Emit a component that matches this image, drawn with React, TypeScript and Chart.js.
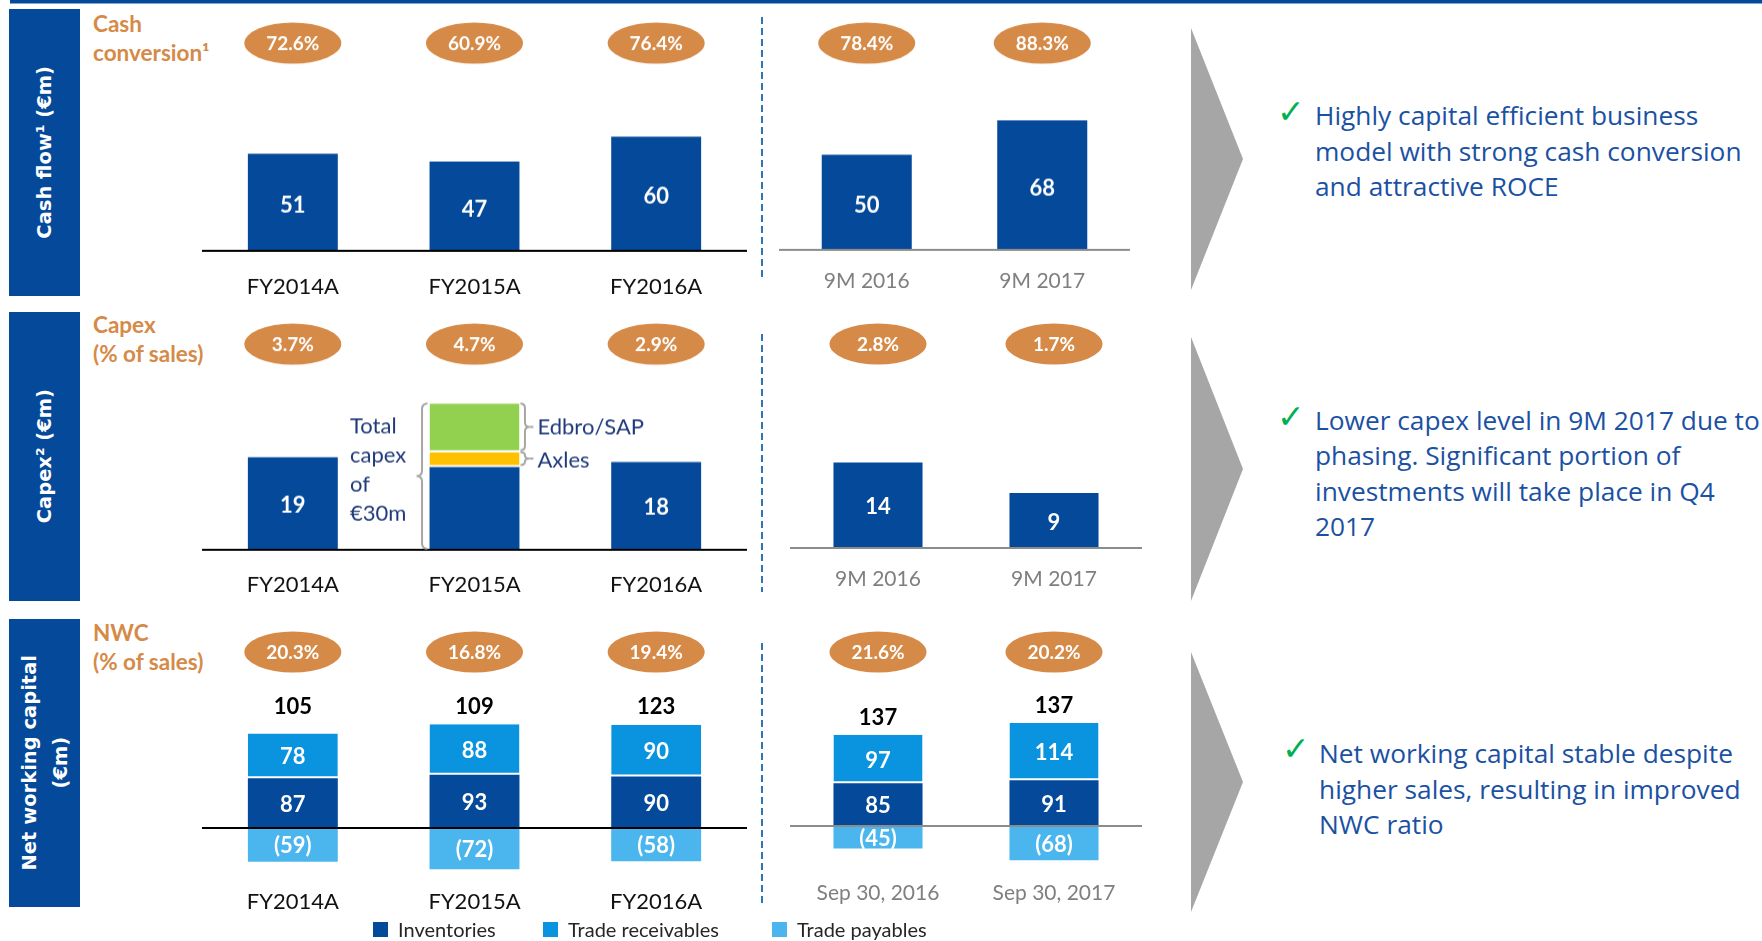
import React, { useEffect, useRef } from "react";
import { Chart, registerables } from "chart.js";
Chart.register(...registerables);

// ---------------- DATA ----------------
const fyCategories = ["FY2014A", "FY2015A", "FY2016A"];
const nineMonthCategories = ["9M 2016", "9M 2017"];
const sepCategories = ["Sep 30, 2016", "Sep 30, 2017"];

const cashFlowFY = [51, 47, 60];
const cashFlow9M = [50, 68];
const cashConversionFY = ["72.6%", "60.9%", "76.4%"];
const cashConversion9M = ["78.4%", "88.3%"];

const capexBaseFY = [19, 17, 18];
const capexAxlesFY = [null, 3, null];
const capexEdbroFY = [null, 10, null];
const capexLabelShownFY = [true, false, true];
const capex9M = [14, 9];
const capexPctFY = ["3.7%", "4.7%", "2.9%"];
const capexPct9M = ["2.8%", "1.7%"];
const capexAnnotationLines = ["Total", "capex", "of", "€30m"];
const capexSegmentNames = ["Axles", "Edbro/SAP"];

const inventoriesFY = [87, 93, 90];
const receivablesFY = [78, 88, 90];
const payablesFY = [-59, -72, -58];
const nwcTotalFY = [105, 109, 123];
const nwcPctFY = ["20.3%", "16.8%", "19.4%"];
const inventoriesSep = [85, 91];
const receivablesSep = [97, 114];
const payablesSep = [-45, -68];
const nwcTotalSep = [137, 137];
const nwcPctSep = ["21.6%", "20.2%"];

const legendLabels = ["Inventories", "Trade receivables", "Trade payables"];

const rowTitles = ["Cash flow¹ (€m)", "Capex² (€m)", "Net working capital\n(€m)"];
const rowMetricLabels = [["Cash", "conversion¹"], ["Capex", "(% of sales)"], ["NWC", "(% of sales)"]];
const commentary = [
  ["Highly capital efficient business", "model with strong cash conversion", "and attractive ROCE"],
  ["Lower capex level in 9M 2017 due to", "phasing. Significant portion of", "investments will take place in Q4", "2017"],
  ["Net working capital stable despite", "higher sales, resulting in improved", "NWC ratio"],
];

// ---------------- STYLE ----------------
const DARK = "#05499A";
const MID = "#0A93DF";
const PALE = "#4BB6EE";
const GREEN = "#92D050";
const YELLOW = "#FFC000";
const ORANGE = "#D68A47";
const NAVY = "#1F3A7A";
const TEXTBLUE = "#1B51A3";
const FONT = "Lato, 'Open Sans', sans-serif";

function drawBrace(ctx: any, x: number, y1: number, y2: number, dir: number, w: number) {
  const r = Math.min(w / 2, (y2 - y1) / 4);
  const mid = (y1 + y2) / 2;
  const xm = x + (dir * w) / 2;
  const xt = x + dir * w;
  ctx.beginPath();
  ctx.moveTo(x, y1);
  ctx.quadraticCurveTo(xm, y1, xm, y1 + r);
  ctx.lineTo(xm, mid - r);
  ctx.quadraticCurveTo(xm, mid, xt, mid);
  ctx.quadraticCurveTo(xm, mid, xm, mid + r);
  ctx.lineTo(xm, y2 - r);
  ctx.quadraticCurveTo(xm, y2, x, y2);
  ctx.stroke();
  return xt;
}

function fmt(v: number) {
  return v < 0 ? `(${Math.abs(v)})` : String(v);
}

function panelPlugin(spec: any) {
  return {
    id: "panel",
    afterDatasetsDraw(chart: any) {
      const ctx = chart.ctx;
      const xs = chart.scales.x;
      const ys = chart.scales.y;
      const area = chart.chartArea;
      const zero = ys.getPixelForValue(0);
      ctx.save();
      // baseline
      ctx.strokeStyle = spec.baselineColor;
      ctx.lineWidth = 2;
      ctx.beginPath();
      ctx.moveTo(area.left, zero);
      ctx.lineTo(area.right, zero);
      ctx.stroke();
      // values in bars
      ctx.font = `bold 22px ${FONT}`;
      ctx.textAlign = "center";
      ctx.textBaseline = "middle";
      ctx.fillStyle = "#fff";
      spec.datasets.forEach((d: any, di: number) => {
        if (!d.showValues) return;
        const meta = chart.getDatasetMeta(di);
        meta.data.forEach((el: any, i: number) => {
          const v = d.data[i];
          if (v == null) return;
          if (d.shown && !d.shown[i]) return;
          ctx.fillText(fmt(v), el.x, (el.y + el.base) / 2 + spec.valueDy);
        });
      });
      // ovals
      if (spec.ovals) {
        spec.ovals.texts.forEach((t: string, i: number) => {
          const x = xs.getPixelForValue(i);
          const y = spec.ovals.y - spec.T;
          ctx.fillStyle = ORANGE;
          ctx.beginPath();
          ctx.ellipse(x, y, 48.5, 20.5, 0, 0, Math.PI * 2);
          ctx.fill();
          ctx.fillStyle = "#fff";
          ctx.font = `bold 19px ${FONT}`;
          ctx.fillText(t, x, y + 1);
        });
      }
      // totals
      if (spec.totals) {
        ctx.fillStyle = "#000";
        ctx.font = `bold 22px ${FONT}`;
        spec.totals.values.forEach((v: number, i: number) => {
          const x = xs.getPixelForValue(i);
          let y;
          if (spec.totals.y != null) y = spec.totals.y - spec.T;
          else {
            const top = chart.getDatasetMeta(1).data[i].y;
            y = top - spec.totals.offset;
          }
          ctx.fillText(String(v), x, y);
        });
      }
      // capex annotation
      if (spec.annotation) {
        const eB = chart.getDatasetMeta(0).data[1];
        const eA = chart.getDatasetMeta(1).data[1];
        const eE = chart.getDatasetMeta(2).data[1];
        const barLeft = eE.x - eE.width / 2;
        const barRight = eE.x + eE.width / 2;
        ctx.strokeStyle = "#A6A6A6";
        ctx.lineWidth = 2;
        drawBrace(ctx, barLeft - 2, eE.y, eB.base - 1, -1, 11);
        ctx.fillStyle = NAVY;
        ctx.font = `22px ${FONT}`;
        ctx.textAlign = "left";
        capexAnnotationLines.forEach((l, i) => {
          ctx.fillText(l, barLeft - 79.5, zero - 123.5 + i * 29);
        });
        const tE = drawBrace(ctx, barRight + 1, eE.y, eE.base - 2, 1, 9);
        ctx.beginPath();
        ctx.moveTo(tE, (eE.y + eE.base - 2) / 2);
        ctx.lineTo(tE + 4, (eE.y + eE.base - 2) / 2);
        ctx.stroke();
        ctx.fillText(capexSegmentNames[1], tE + 8, (eE.y + eE.base) / 2 - 1);
        const tA = drawBrace(ctx, barRight + 1, eA.y, eA.base - 2, 1, 9);
        ctx.beginPath();
        ctx.moveTo(tA, (eA.y + eA.base - 2) / 2);
        ctx.lineTo(tA + 4, (eA.y + eA.base - 2) / 2);
        ctx.stroke();
        ctx.fillText(capexSegmentNames[0], tA + 8, (eA.y + eA.base) / 2 + 1);
      }
      ctx.restore();
    },
  };
}

function BarPanel({ spec }: { spec: any }) {
  const ref = useRef<HTMLCanvasElement>(null);
  const height = spec.B - spec.T + spec.axisH;
  useEffect(() => {
    const min = -(spec.B - spec.zeroY) / spec.p;
    const max = (spec.zeroY - spec.T) / spec.p;
    const chart = new Chart(ref.current as HTMLCanvasElement, {
      type: "bar",
      data: {
        labels: spec.labels,
        datasets: spec.datasets.map((d: any) => ({
          label: d.label,
          data: d.data,
          backgroundColor: d.color,
          borderColor: "#ffffff",
          borderWidth: d.gapBelow ? { top: 0, bottom: 2, left: 0, right: 0 } : 0,
          borderSkipped: false,
          barPercentage: spec.barPct,
          categoryPercentage: 1,
          stack: "s",
        })),
      },
      options: {
        animation: false,
        responsive: false,
        devicePixelRatio: 1,
        layout: { padding: 0 },
        plugins: { legend: { display: false }, tooltip: { enabled: false } },
        scales: {
          x: {
            stacked: true,
            grid: { display: false, drawTicks: false },
            border: { display: false },
            ticks: {
              color: spec.labelColor,
              font: { family: FONT, size: spec.labelSize },
              padding: spec.labelOffset - 0.6 * spec.labelSize,
              autoSkip: false,
              maxRotation: 0,
            },
            afterFit: (s: any) => {
              s.height = spec.axisH;
            },
          },
          y: { stacked: true, display: false, min, max },
        },
      } as any,
      plugins: [panelPlugin(spec)],
    });
    return () => chart.destroy();
  }, []);
  return (
    <canvas
      ref={ref}
      width={spec.width}
      height={height}
      style={{ position: "absolute", left: spec.left, top: spec.T, width: spec.width, height }}
    />
  );
}

const LEFT = { left: 202, width: 545, barPct: 0.495, labelColor: "#111111", labelSize: 22, baselineColor: "#000000" };
const RIGHT1 = { left: 779, width: 351, barPct: 0.513, labelColor: "#7F7F7F", labelSize: 21, baselineColor: "#8C8C8C" };
const RIGHT2 = { left: 790, width: 352, barPct: 0.506, labelColor: "#7F7F7F", labelSize: 21, baselineColor: "#8C8C8C" };

const panels = [
  {
    ...LEFT, T: 15, zeroY: 250.6, B: 250.6, p: 1.9, axisH: 55, labelOffset: 36, valueDy: 3,
    labels: fyCategories,
    datasets: [{ label: "Cash flow", data: cashFlowFY, color: DARK, showValues: true }],
    ovals: { texts: cashConversionFY, y: 43 },
  },
  {
    ...RIGHT1, T: 15, zeroY: 249.5, B: 249.5, p: 1.9, axisH: 50, labelOffset: 31.5, valueDy: 3,
    labels: nineMonthCategories,
    datasets: [{ label: "Cash flow", data: cashFlow9M, color: DARK, showValues: true }],
    ovals: { texts: cashConversion9M, y: 43 },
  },
  {
    ...LEFT, T: 318, zeroY: 549.5, B: 549.5, p: 4.87, axisH: 55, labelOffset: 34.8, valueDy: 2,
    labels: fyCategories,
    datasets: [
      { label: "Capex", data: capexBaseFY, color: DARK, showValues: true, shown: capexLabelShownFY },
      { label: "Axles", data: capexAxlesFY, color: YELLOW, gapBelow: true },
      { label: "Edbro/SAP", data: capexEdbroFY, color: GREEN, gapBelow: true },
    ],
    ovals: { texts: capexPctFY, y: 344 },
    annotation: true,
  },
  {
    ...RIGHT2, T: 318, zeroY: 548.4, B: 548.4, p: 6.12, axisH: 50, labelOffset: 31.6, valueDy: 2,
    labels: nineMonthCategories,
    datasets: [{ label: "Capex", data: capex9M, color: DARK, showValues: true }],
    ovals: { texts: capexPct9M, y: 344 },
  },
  {
    ...LEFT, T: 625, zeroY: 828, B: 875, p: 0.573, axisH: 45, labelOffset: 27, valueDy: 1.5,
    labels: fyCategories,
    datasets: [
      { label: legendLabels[0], data: inventoriesFY, color: DARK, showValues: true },
      { label: legendLabels[1], data: receivablesFY, color: MID, showValues: true, gapBelow: true },
      { label: legendLabels[2], data: payablesFY, color: PALE, showValues: true },
    ],
    ovals: { texts: nwcPctFY, y: 652 },
    totals: { values: nwcTotalFY, y: 707 },
  },
  {
    ...RIGHT2, T: 625, zeroY: 826, B: 875, p: 0.502, axisH: 40, labelOffset: 18, valueDy: 1.5,
    labels: sepCategories,
    datasets: [
      { label: legendLabels[0], data: inventoriesSep, color: DARK, showValues: true },
      { label: legendLabels[1], data: receivablesSep, color: MID, showValues: true, gapBelow: true },
      { label: legendLabels[2], data: payablesSep, color: PALE, showValues: true },
    ],
    ovals: { texts: nwcPctSep, y: 652 },
    totals: { values: nwcTotalSep, offset: 17 },
  },
];

const sideBoxes = [
  { top: 9, height: 287 },
  { top: 312, height: 289 },
  { top: 619, height: 288 },
];
const metricLabelTops = [10, 311, 619];
const chevrons = [
  { top: 28, bottom: 290 },
  { top: 337, bottom: 601 },
  { top: 652, bottom: 912 },
];
const dashed = [
  { y1: 17, y2: 278 },
  { y1: 334, y2: 592 },
  { y1: 643, y2: 905 },
];
const commentaryPos = [
  { left: 1315, top: 98, checkLeft: 1277, checkTop: 93 },
  { left: 1315, top: 402.5, checkLeft: 1277, checkTop: 398 },
  { left: 1319, top: 736, checkLeft: 1282, checkTop: 730 },
];
const legendColors = [DARK, MID, PALE];
const legendPos = [373, 543, 772];

export default function App() {
  useEffect(() => {
    document.body.style.margin = "0";
  }, []);
  return (
    <div
      style={{
        position: "fixed",
        left: 0,
        top: 0,
        width: 1762,
        height: 941,
        background: "#fff",
        overflow: "hidden",
        fontFamily: FONT,
      }}
    >
      <svg width={1762} height={941} style={{ position: "absolute", left: 0, top: 0 }}>
        <rect x={10} y={0} width={1752} height={3.5} fill={DARK} />
        {chevrons.map((c, i) => (
          <polygon
            key={i}
            points={`1191,${c.top} 1243,${(c.top + c.bottom) / 2} 1191,${c.bottom}`}
            fill="#A6A6A6"
          />
        ))}
        {dashed.map((d, i) => (
          <line key={i} x1={762} x2={762} y1={d.y1} y2={d.y2} stroke="#2E75B6" strokeWidth={2} strokeDasharray="7 4" />
        ))}
      </svg>
      {sideBoxes.map((b, i) => (
        <div
          key={i}
          style={{
            position: "absolute",
            left: 9,
            top: b.top,
            width: 71,
            height: b.height,
            background: DARK,
            display: "flex",
            alignItems: "center",
            justifyContent: "center",
          }}
        >
          <div
            style={{
              writingMode: "vertical-rl",
              transform: "rotate(180deg)",
              color: "#fff",
              fontFamily: "'DejaVu Sans', sans-serif",
              fontWeight: "bold",
              fontSize: 19.5,
              lineHeight: "31px",
              whiteSpace: "pre",
              textAlign: "center",
            }}
          >
            {rowTitles[i]}
          </div>
        </div>
      ))}
      {rowMetricLabels.map((lines, i) => (
        <div
          key={i}
          style={{
            position: "absolute",
            left: 93,
            top: metricLabelTops[i],
            color: ORANGE,
            fontWeight: "bold",
            fontSize: 22.5,
            lineHeight: "28.5px",
            whiteSpace: "nowrap",
          }}
        >
          {lines.map((l, j) => (
            <div key={j}>{l}</div>
          ))}
        </div>
      ))}
      {panels.map((s, i) => (
        <BarPanel key={i} spec={s} />
      ))}
      {commentary.map((lines, i) => (
        <React.Fragment key={i}>
          <div
            style={{
              position: "absolute",
              left: commentaryPos[i].checkLeft,
              top: commentaryPos[i].checkTop,
              color: "#00B050",
              fontFamily: "'DejaVu Sans', sans-serif",
              fontWeight: "bold",
              fontSize: 33,
              lineHeight: "38px",
            }}
          >
            ✓
          </div>
          <div
            style={{
              position: "absolute",
              left: commentaryPos[i].left,
              top: commentaryPos[i].top,
              color: TEXTBLUE,
              fontFamily: "'Open Sans', Lato, sans-serif",
              fontSize: 26.3,
              lineHeight: "35.5px",
              whiteSpace: "nowrap",
            }}
          >
            {lines.map((l, j) => (
              <div key={j}>{l}</div>
            ))}
          </div>
        </React.Fragment>
      ))}
      {legendLabels.map((l, i) => (
        <div
          key={i}
          style={{
            position: "absolute",
            left: legendPos[i],
            top: 917,
            height: 24,
            display: "flex",
            alignItems: "center",
            fontSize: 20,
            color: "#262626",
            whiteSpace: "nowrap",
          }}
        >
          <span style={{ display: "inline-block", width: 15, height: 15, background: legendColors[i], marginRight: 10 }} />
          {l}
        </div>
      ))}
    </div>
  );
}
